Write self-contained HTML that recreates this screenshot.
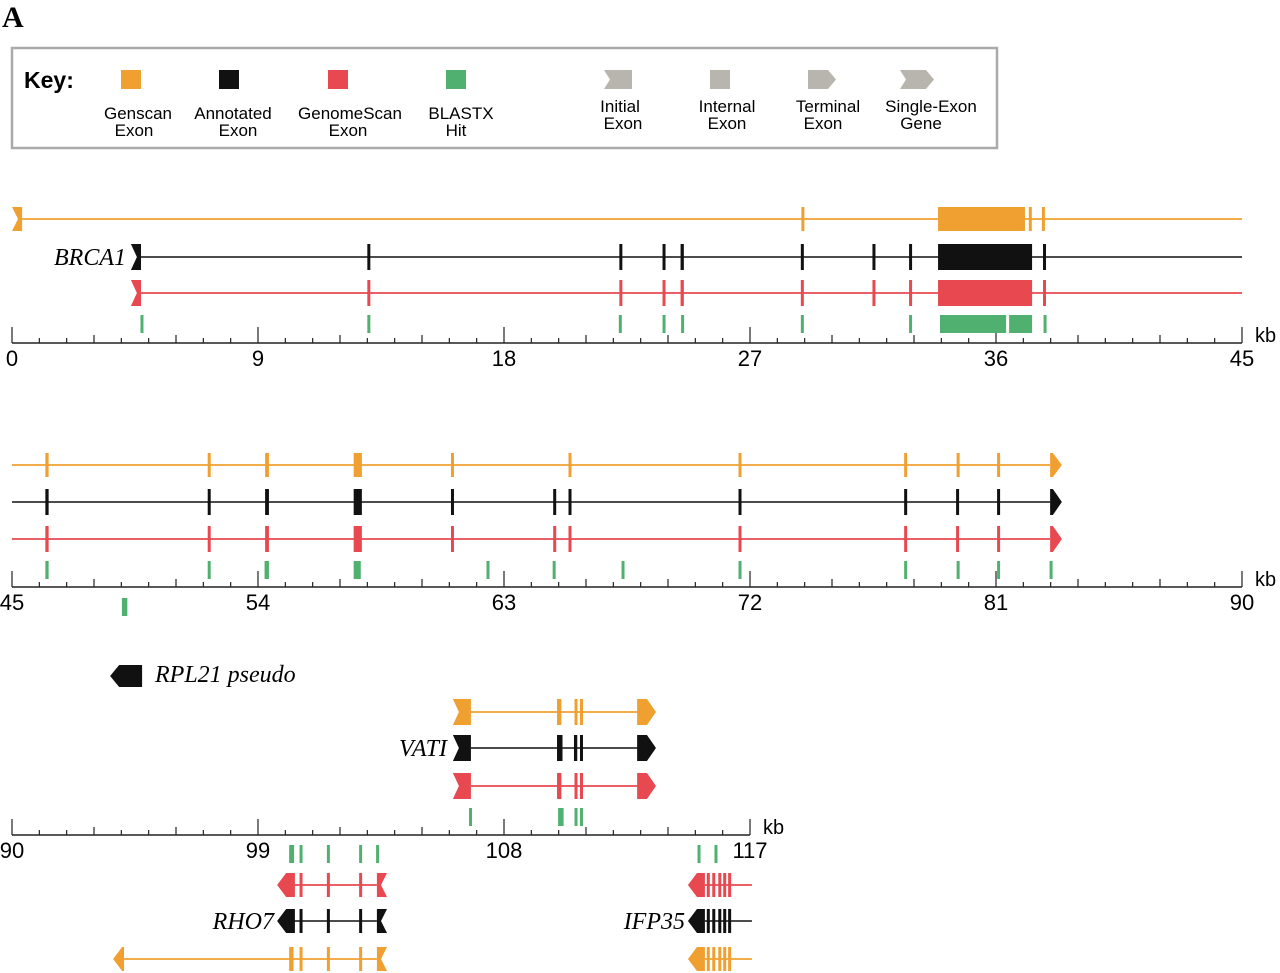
<!DOCTYPE html>
<html><head><meta charset="utf-8"><style>
body{margin:0;background:#fff;}
svg{display:block;font-family:"Liberation Sans",sans-serif;}
.it{font-family:"Liberation Serif",serif;font-style:italic;font-size:24px;}
</style></head><body>
<svg id="c" width="1280" height="973" viewBox="0 0 1280 973">
<text x="2" y="27" font-family="Liberation Serif" font-weight="bold" font-size="30">A</text>
<g>
<rect x="12" y="48" width="985" height="100" fill="#fff" stroke="#aaa" stroke-width="2.5"/>
<text x="24" y="88" font-size="23" font-weight="bold">Key:</text>
<rect x="121" y="70" width="20" height="19" fill="#f0a030"/>
<rect x="219" y="70" width="20" height="19" fill="#111"/>
<rect x="328" y="70" width="20" height="19" fill="#e84850"/>
<rect x="446" y="70" width="20" height="19" fill="#50b070"/>
<g font-size="17" text-anchor="middle">
<text x="138" y="119">Genscan</text><text x="134" y="136">Exon</text>
<text x="233" y="119">Annotated</text><text x="238" y="136">Exon</text>
<text x="350" y="119">GenomeScan</text><text x="348" y="136">Exon</text>
<text x="461" y="119">BLASTX</text><text x="456" y="136">Hit</text>
<text x="620" y="112">Initial</text><text x="623" y="129">Exon</text>
<text x="727" y="112">Internal</text><text x="727" y="129">Exon</text>
<text x="828" y="112">Terminal</text><text x="823" y="129">Exon</text>
<text x="931" y="112">Single-Exon</text><text x="921" y="129">Gene</text>
</g>
<polygon points="604,70 632,70 632,89 604,89 610,79.5" fill="#b8b4ae"/>
<rect x="710" y="70" width="20" height="19" fill="#b8b4ae"/>
<polygon points="808,70 828,70 836,79.5 828,89 808,89" fill="#b8b4ae"/>
<polygon points="900,70 926,70 934,79.5 926,89 900,89 906,79.5" fill="#b8b4ae"/>
</g>
<g id="plot"></g>
</svg>
<script>
const rowOffsets=[0,45,90];
const rowEnds=[45,90,117];
const axisY=[343,587,835];
const tickLabels=[["0","9","18","27","36","45"],["45","54","63","72","81","90"],["90","99","108","117"]];
// Row 1 tracks (kb)
const r1Genscan=[[28.88,28.98],[33.88,37.06],[37.20,37.28],[37.68,37.76]];
const r1Annot=[[13.0,13.06],[22.22,22.28],[23.80,23.88],[24.46,24.58],[28.86,28.96],[31.48,31.54],[32.82,32.90],[33.88,37.32],[37.72,37.80]];
const r1Gscan=[[13.0,13.06],[22.22,22.28],[23.80,23.88],[24.46,24.58],[28.86,28.96],[31.48,31.54],[32.82,32.90],[33.88,37.32],[37.72,37.80]];
const r1Blast=[[4.70,4.76],[13.0,13.06],[22.20,22.30],[23.80,23.88],[24.48,24.58],[28.86,28.96],[32.82,32.90],[33.95,36.37],[36.48,37.32],[37.74,37.80]];
// Row 2
const r2Genscan=[[46.22,46.34],[52.16,52.26],[54.26,54.40],[57.50,57.80],[61.06,61.14],[65.36,65.42],[71.58,71.68],[77.64,77.70],[79.56,79.64],[81.04,81.10]];
const r2Annot=[[46.22,46.34],[52.16,52.26],[54.26,54.40],[57.50,57.80],[61.06,61.14],[64.80,64.88],[65.36,65.42],[71.58,71.68],[77.64,77.70],[79.54,79.62],[81.04,81.10]];
const r2Gscan=[[46.22,46.34],[52.16,52.26],[54.26,54.40],[57.50,57.80],[61.06,61.14],[64.80,64.88],[65.36,65.42],[71.58,71.68],[77.64,77.70],[79.54,79.62],[81.04,81.10]];
const r2Blast=[[46.22,46.34],[52.16,52.24],[54.24,54.40],[57.50,57.76],[62.36,62.46],[64.78,64.88],[67.30,67.40],[71.58,71.68],[77.64,77.70],[79.56,79.64],[81.04,81.10],[82.96,83.06]];
// Row 3
const r3Genscan=[[109.94,110.10],[110.58,110.66],[110.78,110.86]];
const r3Annot=[[109.94,110.14],[110.56,110.68],[110.78,110.88]];
const r3Blast=[[106.72,106.82],[109.98,110.18],[110.58,110.68],[110.78,110.86]];
const r3BlastLow=[[100.14,100.32],[100.52,100.62],[101.52,101.60],[102.70,102.76],[103.32,103.38],[115.08,115.18],[115.70,115.76]];
const rhoExons=[[100.14,100.30],[100.52,100.62],[101.52,101.60],[102.70,102.76]];
const ifpExons=[[115.42,115.50],[115.62,115.70],[115.84,115.92],[116.02,116.10],[116.20,116.28]];
const C={o:"#f0a030",k:"#111",r:"#e84850",g:"#50b070"};
const NS="http://www.w3.org/2000/svg";
const plot=document.getElementById('plot');
function X(kb,row){return 12+(kb-rowOffsets[row])*1230/45;}
function mk(tag,attrs){const e=document.createElementNS(NS,tag);for(const k in attrs)e.setAttribute(k,attrs[k]);plot.appendChild(e);return e;}
function line(row,y,a,b,col){const e=mk('line',{x1:X(a,row),x2:X(b,row),y1:y,y2:y,stroke:col,'stroke-width':col===C.k?1.6:1.8});

}
function exons(row,y,arr,col,h,name){arr.forEach(d=>{const x0=X(d[0],row),x1=X(d[1],row);const e=mk('rect',{x:x0,y:y-h,width:Math.max(3,x1-x0),height:2*h,fill:col});

});}
function shape(row,y,a,b,type,col,h){const x0=X(a,row),x1=X(b,row),n=6;let p;
if(type==='initF')p=[[x0,y-h],[x1,y-h],[x1,y+h],[x0,y+h],[x0+n,y]];
else if(type==='initR')p=[[x0,y-h],[x1,y-h],[x1-n,y],[x1,y+h],[x0,y+h]];
else if(type==='termF')p=[[x0,y-h],[x1-n*1.5,y-h],[x1,y],[x1-n*1.5,y+h],[x0,y+h]];
else p=[[x1,y-h],[x0+n*1.5,y-h],[x0,y],[x0+n*1.5,y+h],[x1,y+h]];
const e=mk('polygon',{points:p.map(q=>q.join(',')).join(' '),fill:col});

}
function axis(row){const y=axisY[row],s=rowOffsets[row],e=rowEnds[row];
const l=mk('line',{x1:X(s,row),x2:X(e,row),y1:y,y2:y,stroke:'#222','stroke-width':1.5});


for(let k=s;k<=e;k++){const r=k-s;const h=r%9===0?16:(r%3===0?8:5);
const t=mk('line',{x1:X(k,row),x2:X(k,row),y1:y,y2:y-h,stroke:'#222','stroke-width':1.2});

}
tickLabels[row].forEach((lab,i)=>{const kb=s+i*9;const t=mk('text',{x:X(kb,row),y:y+23,'font-size':22,'text-anchor':'middle'});t.textContent=lab;

});
const kbl=mk('text',{x:X(e,row)+13,y:y-1,'font-size':20});kbl.textContent='kb';

}
function label(x,y,txt){const t=mk('text',{x:x,y:y,'text-anchor':'end',class:'it'});t.textContent=txt;

}
// Row 1
axis(0);
line(0,219,0.37,45,C.o);shape(0,219,0,0.37,'initF',C.o,12);exons(0,219,r1Genscan,C.o,12,'genscan-exon');
line(0,257,4.72,45,C.k);shape(0,257,4.35,4.72,'initF',C.k,13);exons(0,257,r1Annot,C.k,13,'annotated-exon');
line(0,293,4.72,45,C.r);shape(0,293,4.35,4.72,'initF',C.r,13);exons(0,293,r1Gscan,C.r,13,'genomescan-exon');
exons(0,324,r1Blast,C.g,9,'blastx-hit');
label(126,265,'BRCA1');
// Row 2
axis(1);
line(1,465,45,82.98,C.o);exons(1,465,r2Genscan,C.o,12,'genscan-exon');shape(1,465,82.98,83.41,'termF',C.o,12);
line(1,502,45,82.98,C.k);exons(1,502,r2Annot,C.k,13,'annotated-exon');shape(1,502,82.98,83.41,'termF',C.k,13);
line(1,539,45,82.98,C.r);exons(1,539,r2Gscan,C.r,13,'genomescan-exon');shape(1,539,82.98,83.41,'termF',C.r,13);
exons(1,570,r2Blast,C.g,9,'blastx-hit');
exons(1,607,[[49.02,49.22]],C.g,9,'blastx-hit');
shape(1,676,48.59,49.76,'termR',C.k,11);
{const t=mk('text',{x:155,y:682,class:'it'});t.textContent='RPL21 pseudo';

}
// Row 3
axis(2);
[[712,C.o,r3Genscan,'genscan-exon'],[748,C.k,r3Annot,'annotated-exon'],[786,C.r,r3Genscan,'genomescan-exon']].forEach(([y,c,ex,n])=>{
line(2,y,106.79,112.9,c);shape(2,y,106.13,106.79,'initF',c,13);exons(2,y,ex,c,13,n);shape(2,y,112.87,113.56,'termF',c,13);});
label(447,756,'VATI');
exons(2,817,r3Blast,C.g,9,'blastx-hit');
exons(2,854,r3BlastLow,C.g,9,'blastx-hit');
[[885,C.r,99.70],[921,C.k,99.70],[959,C.o,93.70]].forEach(([y,c,st])=>{
line(2,y,st+0.4,103.35,c);shape(2,y,st,st+(c===C.o?0.4:0.65),'termR',c,12);exons(2,y,rhoExons,c,12,'rho7-exon');shape(2,y,103.35,103.72,'initR',c,12);
line(2,y,115.35,117.07,c);shape(2,y,114.73,115.35,'termR',c,12);exons(2,y,ifpExons,c,12,'ifp35-exon');});
label(274,929,'RHO7');
label(685,929,'IFP35');
</script>
</body></html>
